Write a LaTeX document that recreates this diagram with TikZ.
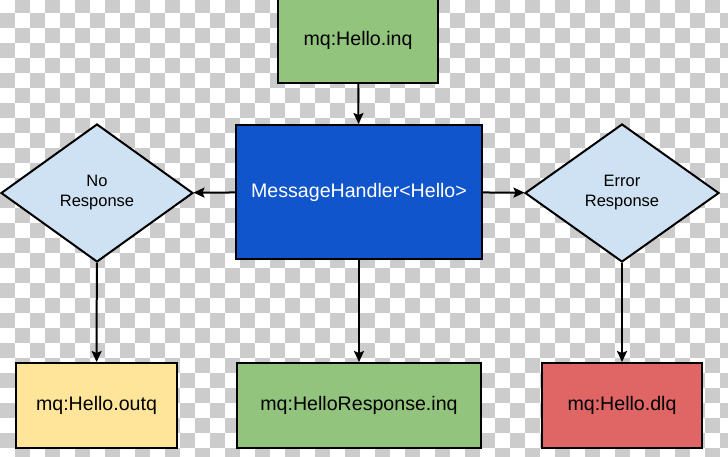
\documentclass[tikz,border=0pt]{standalone}
\usepackage{fontspec}
\setmainfont{Liberation Sans}
\usepackage{tikz}
\usetikzlibrary{arrows.meta}
\usetikzlibrary{shapes.geometric}
\definecolor{qgreen}{HTML}{93C47D}
\definecolor{qblue}{HTML}{1155CC}
\definecolor{qlight}{HTML}{CFE2F3}
\definecolor{qyellow}{HTML}{FFE599}
\definecolor{qred}{HTML}{E06666}
\definecolor{checkgray}{HTML}{CCCCCC}
\tikzset{queue/.style={rectangle, draw=black, line width=2pt, inner sep=0pt,
      font=\fontsize{19.6}{22}\selectfont}}
\tikzset{decide/.style={diamond, draw=black, line width=2pt, fill=qlight, inner sep=0pt,
      align=center, font=\fontsize{16.5}{20}\selectfont}}
\tikzset{flow/.style={line width=2pt, -{Stealth[length=11pt,width=10pt,inset=2pt]}}}

\begin{document}
\begin{tikzpicture}[x=1pt,y=-1pt]
		\useasboundingbox (0,0) rectangle (728,456);
		\clip (0,0) rectangle (728,456);
		\fill[white] (0,0) rectangle (728,456);
		\foreach \j in {0,...,31}
			\foreach \i in {0,2,...,48}
				\fill[checkgray] ({15*(\i+1-mod(\j,2))},{15*\j-2}) rectangle ++(15,15);
		\node[queue, fill=qgreen, minimum width=160pt, minimum height=86pt] (inq) at (358,40) {mq:Hello.inq};
		\node[queue, fill=qblue, text=white, minimum width=246pt, minimum height=134pt] (handler) at (359,192) {MessageHandler<Hello>};
		\node[decide, minimum width=192pt, minimum height=138pt] (noresp) at (97,193) {No\\Response};
		\node[decide, minimum width=194pt, minimum height=138pt] (errresp) at (622,193) {Error\\Response};
		\node[queue, fill=qyellow, minimum width=161pt, minimum height=85pt] (outq) at (96.5,405.5) {mq:Hello.outq};
		\node[queue, fill=qgreen, minimum width=244pt, minimum height=85pt] (respinq) at (359,405.5) {mq:HelloResponse.inq};
		\node[queue, fill=qred, minimum width=160pt, minimum height=85pt] (dlq) at (622,405.5) {mq:Hello.dlq};
		\draw[flow] (inq) -- (handler);
		\draw[flow] (handler) -- (noresp);
		\draw[flow] (handler) -- (errresp);
		\draw[flow] (handler) -- (respinq);
		\draw[flow] (noresp) -- (outq);
		\draw[flow] (errresp) -- (dlq);
\end{tikzpicture}
\end{document}
